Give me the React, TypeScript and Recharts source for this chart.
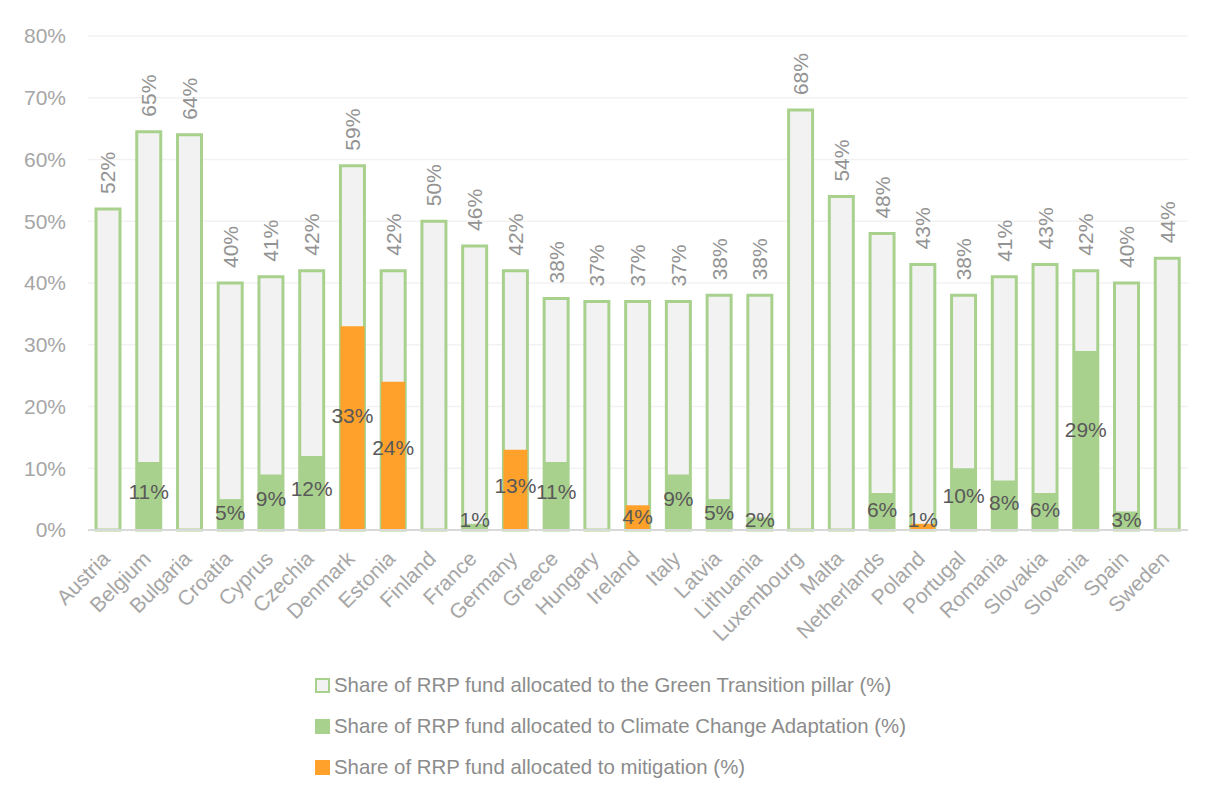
import React from 'react';
import {
  ComposedChart,
  Bar,
  XAxis,
  YAxis,
  CartesianGrid,
  Legend,
  LabelList,
} from 'recharts';

const countries = [
  'Austria', 'Belgium', 'Bulgaria', 'Croatia', 'Cyprus', 'Czechia', 'Denmark', 'Estonia', 'Finland',
  'France', 'Germany', 'Greece', 'Hungary', 'Ireland', 'Italy', 'Latvia', 'Lithuania', 'Luxembourg',
  'Malta', 'Netherlands', 'Poland', 'Portugal', 'Romania', 'Slovakia', 'Slovenia', 'Spain', 'Sweden',
];
const greenTransition = [
  52, 64.5, 64, 40, 41, 42, 59, 42, 50, 46, 42, 37.5, 37, 37, 37, 38, 38, 68, 54, 48, 43, 38, 41, 43, 42, 40, 44,
];
const adaptation = [
  0, 11, 0, 5, 9, 12, 0, 0, 0, 1, 0, 11, 0, 0, 9, 5, 2, 0, 0, 6, 0, 10, 8, 6, 29, 3, 0,
];
const mitigation = [
  0, 0, 0, 0, 0, 0, 33, 24, 0, 0, 13, 0, 0, 4, 0, 0, 0, 0, 0, 0, 1, 0, 0, 0, 0, 0, 0,
];
const yTicks = [0, 10, 20, 30, 40, 50, 60, 70, 80];

const seriesNames = [
  'Share of RRP fund allocated to the Green Transition pillar (%)',
  'Share of RRP fund allocated to Climate Change Adaptation (%)',
  'Share of RRP fund allocated to mitigation (%)',
];

const GREEN = '#A9D18E';
const LIGHT = '#F2F2F2';
const ORANGE = '#FFA12B';
const FONT = '"Liberation Sans", Arial, sans-serif';

const data = countries.map((name, i) => ({
  name,
  green: greenTransition[i],
  adapt: adaptation[i],
  mitig: mitigation[i],
}));

function CountryTick(props: any) {
  const { x, y, payload } = props;
  const ax = x + 3;
  const ay = y + 22;
  return (
    <text
      x={ax}
      y={ay}
      transform={`rotate(-45, ${ax}, ${ay})`}
      textAnchor="end"
      fill="#A6A6A6"
      fontSize={21}
      fontFamily={FONT}
    >
      {payload.value}
    </text>
  );
}

function TopLabel(props: any) {
  const { x, y, width, value } = props;
  const cx = x + width / 2;
  const ty = y - 15;
  return (
    <text
      x={cx}
      y={ty}
      transform={`rotate(-90, ${cx}, ${ty})`}
      textAnchor="start"
      dominantBaseline="central"
      fill="#939393"
      fontSize={21}
      fontFamily={FONT}
    >
      {Math.round(value)}%
    </text>
  );
}

function InnerLabel(props: any) {
  const { x, y, width, height, value } = props;
  if (!value) return null;
  // sit a little above the middle, but never drop below the axis line
  const base = y + height;
  const ly = Math.min(y + height / 2 - height * 0.06, base - 11);
  return (
    <text
      x={x + width / 2}
      y={ly}
      textAnchor="middle"
      dominantBaseline="central"
      fill="#595959"
      fontSize={21}
      fontFamily={FONT}
    >
      {Math.round(value)}%
    </text>
  );
}

function LegendBox() {
  const items = [
    { label: seriesNames[0], fill: LIGHT, stroke: GREEN },
    { label: seriesNames[1], fill: GREEN, stroke: GREEN },
    { label: seriesNames[2], fill: ORANGE, stroke: ORANGE },
  ];
  return (
    <div style={{ height: 123, paddingLeft: 307, fontFamily: FONT }}>
      {items.map((it) => (
        <div key={it.label} style={{ height: 41, display: 'flex', alignItems: 'center' }}>
          <span
            style={{
              display: 'inline-block',
              width: 11,
              height: 11,
              background: it.fill,
              border: `2px solid ${it.stroke}`,
              marginRight: 4,
            }}
          />
          <span style={{ fontSize: 20.4, color: '#8C8C8C' }}>{it.label}</span>
        </div>
      ))}
    </div>
  );
}

export default function App() {
  return (
    <div
      style={{
        width: 1204,
        height: 782,
        marginLeft: -1,
        marginTop: -1,
        borderLeft: '1px solid #D9D9D9',
        borderTop: '1px solid #D9D9D9',
        background: '#fff',
        overflow: 'hidden',
      }}
    >
      <ComposedChart
        width={1204}
        height={782}
        data={data}
        margin={{ top: 28, right: 24, bottom: 2, left: 0 }}
        barSize={24}
      >
        <CartesianGrid vertical={false} stroke="#F2F2F2" strokeWidth={1.5} />
        <XAxis
          xAxisId="main"
          dataKey="name"
          interval={0}
          height={135}
          tick={<CountryTick />}
          tickLine={false}
          axisLine={{ stroke: '#D9D9D9', strokeWidth: 2 }}
        />
        <XAxis xAxisId="over" dataKey="name" hide />
        <YAxis
          domain={[0, 80]}
          ticks={yTicks}
          width={80}
          axisLine={false}
          tickLine={false}
          tickSize={20}
          tickFormatter={(v) => `${v}%`}
          tick={{ fill: '#A6A6A6', fontSize: 21, fontFamily: FONT }}
        />
        <Legend verticalAlign="bottom" content={<LegendBox />} />
        <Bar
          xAxisId="main"
          dataKey="green"
          name={seriesNames[0]}
          fill={LIGHT}
          stroke={GREEN}
          strokeWidth={3}
          isAnimationActive={false}
        >
          <LabelList dataKey="green" content={<TopLabel />} />
        </Bar>
        <Bar
          xAxisId="over"
          dataKey="adapt"
          stackId="inner"
          name={seriesNames[1]}
          fill={GREEN}
          isAnimationActive={false}
        >
          <LabelList dataKey="adapt" content={<InnerLabel />} />
        </Bar>
        <Bar
          xAxisId="over"
          dataKey="mitig"
          stackId="inner"
          name={seriesNames[2]}
          fill={ORANGE}
          isAnimationActive={false}
        >
          <LabelList dataKey="mitig" content={<InnerLabel />} />
        </Bar>
      </ComposedChart>
    </div>
  );
}
